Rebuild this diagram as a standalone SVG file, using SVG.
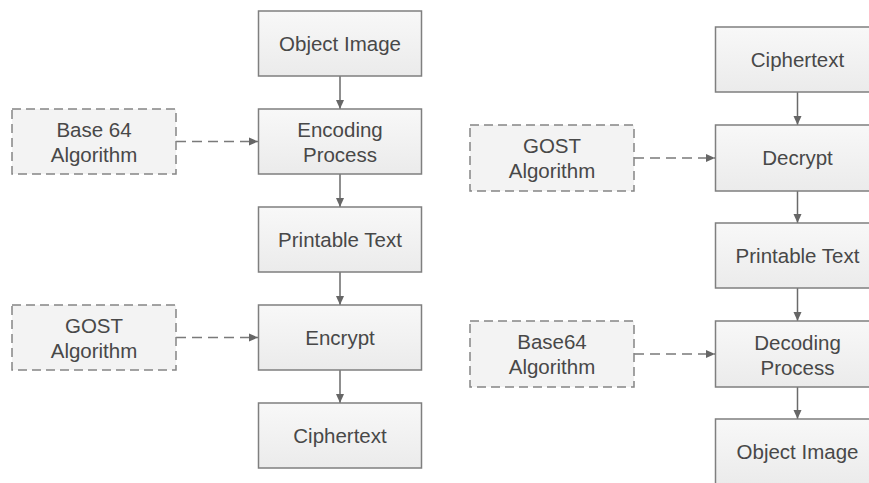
<svg xmlns="http://www.w3.org/2000/svg" width="869" height="483" viewBox="0 0 869 483">
<defs>
<linearGradient id="g" x1="0" y1="0" x2="0" y2="1">
<stop offset="0" stop-color="#f8f8f8"/>
<stop offset="1" stop-color="#ebebeb"/>
</linearGradient>
<marker id="ah" markerWidth="10" markerHeight="10" refX="9" refY="5" orient="auto" markerUnits="userSpaceOnUse">
<path d="M0,1 L9,5 L0,9 Z" fill="#666"/>
</marker>
</defs>
<style>
.box{fill:url(#g);stroke:#7f7f7f;stroke-width:1.5}
.dbox{fill:#f3f3f3;stroke:#858585;stroke-width:1.5;stroke-dasharray:9 5}
text{font-family:"Liberation Sans",Arial,sans-serif;font-size:20.5px;fill:#484848;text-anchor:middle}
.c{stroke:#6a6a6a;stroke-width:1.5;fill:none}
.d{stroke:#7a7a7a;stroke-width:1.5;fill:none;stroke-dasharray:10 6}
</style>
<rect width="869" height="483" fill="#ffffff"/>
<g id="connectors">
<line class="c" x1="340" y1="76" x2="340" y2="109" marker-end="url(#ah)"/>
<line class="c" x1="340" y1="174" x2="340" y2="207" marker-end="url(#ah)"/>
<line class="c" x1="340" y1="272" x2="340" y2="305" marker-end="url(#ah)"/>
<line class="c" x1="340" y1="370" x2="340" y2="403" marker-end="url(#ah)"/>
<line class="d" x1="176" y1="141.5" x2="258" y2="141.5" marker-end="url(#ah)"/>
<line class="d" x1="176" y1="337.5" x2="258" y2="337.5" marker-end="url(#ah)"/>
<line class="c" x1="797.5" y1="92" x2="797.5" y2="125" marker-end="url(#ah)"/>
<line class="c" x1="797.5" y1="191" x2="797.5" y2="223" marker-end="url(#ah)"/>
<line class="c" x1="797.5" y1="288" x2="797.5" y2="321" marker-end="url(#ah)"/>
<line class="c" x1="797.5" y1="387" x2="797.5" y2="419" marker-end="url(#ah)"/>
<line class="d" x1="634" y1="158" x2="715" y2="158" marker-end="url(#ah)"/>
<line class="d" x1="634" y1="354" x2="715" y2="354" marker-end="url(#ah)"/>
</g>
<g id="l-object-image"><rect class="box" x="258.5" y="11" width="163" height="65"/><text x="340" y="50.5">Object Image</text></g>
<g id="l-encoding"><rect class="box" x="258.5" y="109" width="163" height="65"/><text x="340" y="137">Encoding</text><text x="340" y="162">Process</text></g>
<g id="l-printable"><rect class="box" x="258.5" y="207" width="163" height="65"/><text x="340" y="246.5">Printable Text</text></g>
<g id="l-encrypt"><rect class="box" x="258.5" y="305" width="163" height="65"/><text x="340" y="344.5">Encrypt</text></g>
<g id="l-ciphertext"><rect class="box" x="258.5" y="403" width="163" height="65"/><text x="340" y="442.5">Ciphertext</text></g>
<g id="l-base64"><rect class="dbox" x="12" y="109" width="164" height="65"/><text x="94" y="137">Base 64</text><text x="94" y="162">Algorithm</text></g>
<g id="l-gost"><rect class="dbox" x="12" y="305" width="164" height="65"/><text x="94" y="333">GOST</text><text x="94" y="358">Algorithm</text></g>
<g id="r-ciphertext"><rect class="box" x="715.5" y="27" width="165" height="65"/><text x="797.5" y="66.5">Ciphertext</text></g>
<g id="r-decrypt"><rect class="box" x="715.5" y="125" width="165" height="66"/><text x="797.5" y="165">Decrypt</text></g>
<g id="r-printable"><rect class="box" x="715.5" y="223" width="165" height="65"/><text x="797.5" y="262.5">Printable Text</text></g>
<g id="r-decoding"><rect class="box" x="715.5" y="321" width="165" height="66"/><text x="797.5" y="349.5">Decoding</text><text x="797.5" y="374.5">Process</text></g>
<g id="r-object-image"><rect class="box" x="715.5" y="419" width="165" height="66"/><text x="797.5" y="458.5">Object Image</text></g>
<g id="r-gost"><rect class="dbox" x="470" y="125" width="164" height="66"/><text x="552" y="153">GOST</text><text x="552" y="178">Algorithm</text></g>
<g id="r-base64"><rect class="dbox" x="470" y="321" width="164" height="66"/><text x="552" y="349">Base64</text><text x="552" y="374">Algorithm</text></g>
</svg>
